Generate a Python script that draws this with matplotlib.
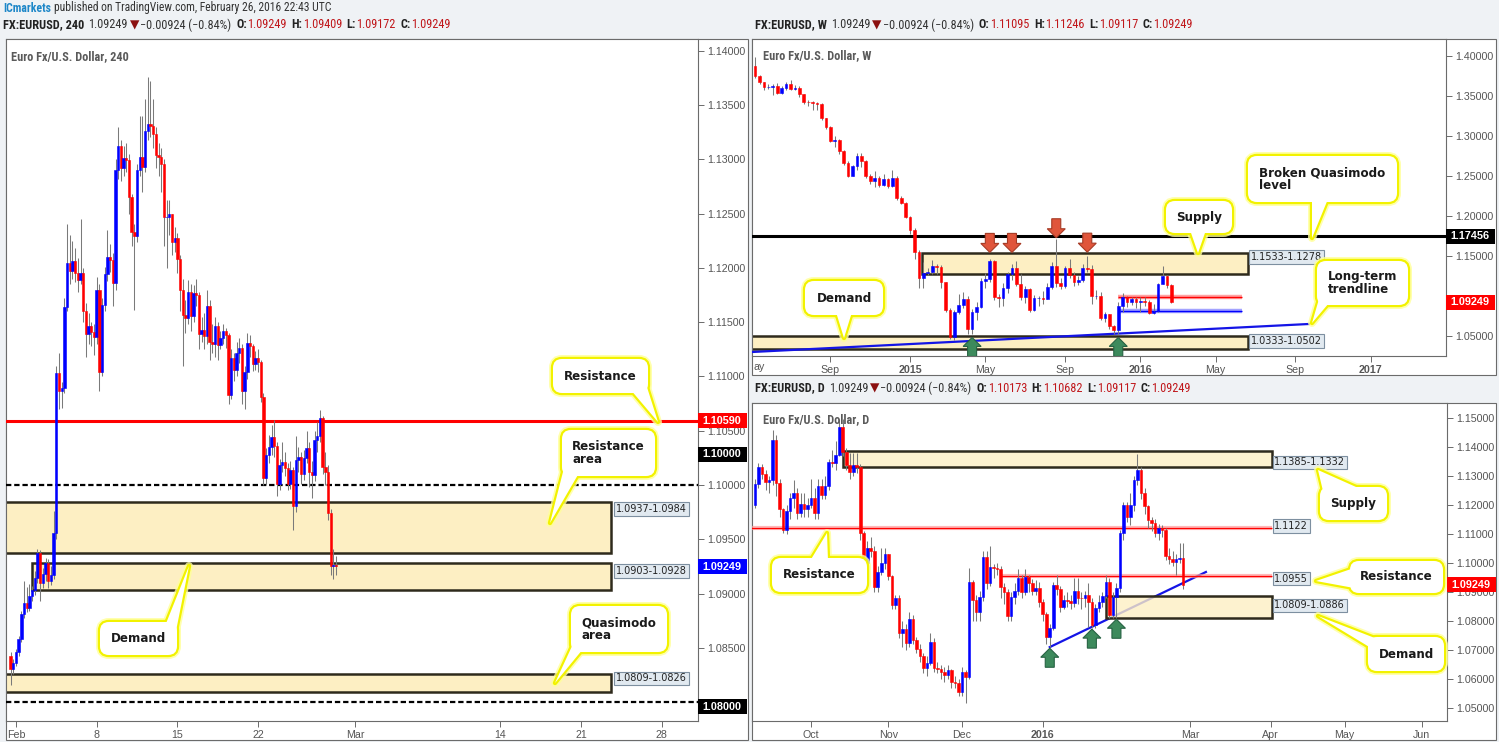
import numpy as np
import pandas as pd
import matplotlib
matplotlib.use("Agg")
import matplotlib.pyplot as plt
import matplotlib.patches as mpatches
import matplotlib.transforms as mtransforms
from matplotlib import font_manager
from matplotlib.colors import to_rgba

W, H = 1499, 742
ID = mtransforms.IdentityTransform()


def first_font(names):
    have = {f.name for f in font_manager.fontManager.ttflist}
    for n in names:
        if n in have:
            return n
    return None


NARROW = first_font(["Liberation Sans Narrow", "Roboto Condensed", "Open Sans Condensed",
                     "Noto Sans Condensed", "Arial Narrow"])
# without a narrow face, shrink the regular one so the header keeps its width
HEAD_SIZE = 8.4 if NARROW else 6.8
NARROW = NARROW or first_font(["Liberation Sans"]) or "DejaVu Sans"
SANS = first_font(["Liberation Sans"]) or "DejaVu Sans"
plt.rcParams["font.family"] = [SANS, "DejaVu Sans"]

BG, FRAME, TXT = "#eff2f5", "#6b6b6b", "#555555"
BLUE, RED, WICK = "#0000ff", "#ff0000", "#7a7a7a"
ZONE_FC, ZONE_EC = "#fdefc3", "#2e2a1c"
VAL_RED = "#c0171b"

# ---------------- 4h candles (EURUSD 240) ----------------
H4_FIRST_OPEN = 1.0843
H4_CLOSE = [1.0831, 1.0836, 1.0846, 1.0858, 1.0881, 1.0891, 1.0887, 1.0898, 1.0903, 1.0914,
            1.0937, 1.0910, 1.0918, 1.0928, 1.0912, 1.0917, 1.0956, 1.1103, 1.1087, 1.1089,
            1.1164, 1.1204, 1.1197, 1.1206, 1.1195, 1.1189, 1.1195, 1.1160, 1.1139, 1.1146,
            1.1141, 1.1136, 1.1180, 1.1104, 1.1166, 1.1194, 1.1210, 1.1207, 1.1186, 1.1290,
            1.1312, 1.1292, 1.1301, 1.1299, 1.1265, 1.1233, 1.1229, 1.1290, 1.1302, 1.1293,
            1.1326, 1.1332, 1.1331, 1.1323, 1.1304, 1.1302, 1.1296, 1.1247, 1.1247, 1.1250,
            1.1224, 1.1227, 1.1208, 1.1180, 1.1157, 1.1154, 1.1178, 1.1156, 1.1177, 1.1175,
            1.1139, 1.1143, 1.1137, 1.1165, 1.1132, 1.1130, 1.1146, 1.1129, 1.1135, 1.1142,
            1.1138, 1.1083, 1.1117, 1.1106, 1.1122, 1.1126, 1.1087, 1.1104, 1.1131, 1.1128,
            1.1111, 1.1117, 1.1113, 1.1081, 1.1006, 1.1028, 1.1035, 1.1044, 1.1036, 1.1001,
            1.1018, 1.1021, 1.1016, 1.1001, 1.1014, 1.0981, 1.1023, 1.1026, 1.1010, 1.1025,
            1.1034, 1.1012, 1.1009, 1.1041, 1.1045, 1.1062, 1.1017, 1.1012, 1.0974, 1.0925,
            1.0926, 1.0925]
H4_HIGH = [1.0846, 1.0840, 1.0849, 1.0861, 1.0884, 1.0912, 1.0906, 1.0909, 1.0907, 1.0921,
           1.0941, 1.0940, 1.0924, 1.0933, 1.0932, 1.0925, 1.0976, 1.1110, 1.1122, 1.1095,
           1.1172, 1.1240, 1.1230, 1.1225, 1.1218, 1.1209, 1.1245, 1.1200, 1.1168, 1.1158,
           1.1150, 1.1148, 1.1192, 1.1185, 1.1172, 1.1201, 1.1235, 1.1222, 1.1214, 1.1300,
           1.1330, 1.1318, 1.1312, 1.1315, 1.1305, 1.1268, 1.1240, 1.1296, 1.1340, 1.1340,
           1.1355, 1.1376, 1.1372, 1.1355, 1.1330, 1.1315, 1.1310, 1.1300, 1.1262, 1.1262,
           1.1250, 1.1238, 1.1232, 1.1212, 1.1190, 1.1170, 1.1189, 1.1185, 1.1184, 1.1190,
           1.1178, 1.1155, 1.1158, 1.1180, 1.1170, 1.1148, 1.1155, 1.1150, 1.1142, 1.1148,
           1.1145, 1.1140, 1.1125, 1.1122, 1.1132, 1.1135, 1.1130, 1.1110, 1.1140, 1.1138,
           1.1130, 1.1123, 1.1125, 1.1115, 1.1085, 1.1034, 1.1046, 1.1055, 1.1060, 1.1040,
           1.1024, 1.1040, 1.1030, 1.1020, 1.1022, 1.1017, 1.1045, 1.1035, 1.1030, 1.1032,
           1.1050, 1.1040, 1.1022, 1.1050, 1.1058, 1.1069, 1.1064, 1.1030, 1.1018, 1.0978,
           1.0941, 1.0935]
H4_LOW = [1.0816, 1.0826, 1.0833, 1.0843, 1.0855, 1.0878, 1.0883, 1.0884, 1.0893, 1.0899,
          1.0910, 1.0893, 1.0905, 1.0912, 1.0905, 1.0908, 1.0913, 1.0950, 1.1070, 1.1071,
          1.1085, 1.1160, 1.1185, 1.1190, 1.1187, 1.1178, 1.1185, 1.1150, 1.1118, 1.1130,
          1.1128, 1.1120, 1.1130, 1.1087, 1.1100, 1.1160, 1.1188, 1.1196, 1.1165, 1.1180,
          1.1282, 1.1280, 1.1285, 1.1288, 1.1250, 1.1220, 1.1161, 1.1224, 1.1285, 1.1270,
          1.1288, 1.1318, 1.1320, 1.1310, 1.1292, 1.1285, 1.1270, 1.1220, 1.1200, 1.1230,
          1.1212, 1.1215, 1.1195, 1.1160, 1.1110, 1.1140, 1.1148, 1.1142, 1.1150, 1.1165,
          1.1125, 1.1132, 1.1125, 1.1130, 1.1115, 1.1122, 1.1118, 1.1115, 1.1125, 1.1130,
          1.1126, 1.1075, 1.1079, 1.1096, 1.1100, 1.1112, 1.1075, 1.1070, 1.1098, 1.1118,
          1.1105, 1.1106, 1.1104, 1.1076, 1.1000, 1.1000, 1.1020, 1.1028, 1.1026, 1.0990,
          1.0995, 1.1012, 1.1008, 1.0995, 1.0996, 1.0959, 1.0975, 1.1012, 1.1001, 1.1005,
          1.1020, 1.0998, 1.0988, 1.1004, 1.1030, 1.1040, 1.1010, 1.1000, 1.0968, 1.0917,
          1.0913, 1.0917]
H4_TICK_DATES = ["2016-02-01", "2016-02-08", "2016-02-15", "2016-02-22",
                 "2016-03-01", "2016-03-14", "2016-03-21", "2016-03-28"]
H4_TICK_LABELS = ["Feb", "8", "15", "22", "Mar", "14", "21", "28"]

# ---------------- weekly candles ----------------
W_FIRST_OPEN = 1.3875
W_CLOSE = [1.3750, 1.3675, 1.3610, 1.3615, 1.3625, 1.3537, 1.3600, 1.3650, 1.3590, 1.3605,
           1.3525, 1.3425, 1.3420, 1.3410, 1.3400, 1.3225, 1.3110, 1.2940, 1.2950, 1.2810,
           1.2660, 1.2500, 1.2625, 1.2750, 1.2687, 1.2500, 1.2437, 1.2475, 1.2387, 1.2460,
           1.2380, 1.2475, 1.2225, 1.2162, 1.1990, 1.1825, 1.1550, 1.1225, 1.1287, 1.1300,
           1.1375, 1.1362, 1.1175, 1.0825, 1.0490, 1.0800, 1.0887, 1.0962, 1.0587, 1.0800,
           1.0862, 1.1187, 1.1212, 1.1437, 1.0987, 1.0975, 1.1100, 1.1275, 1.1350, 1.1150,
           1.0987, 1.1087, 1.0825, 1.0975, 1.0975, 1.0962, 1.1112, 1.1375, 1.1162, 1.1125,
           1.1350, 1.1262, 1.1175, 1.1200, 1.1355, 1.1337, 1.1000, 1.1005, 1.0725, 1.0770,
           1.0625, 1.0575, 1.0875, 1.0987, 1.0925, 1.0962, 1.0925, 1.0940, 1.0930, 1.0787,
           1.0810, 1.1150, 1.1250, 1.1137, 1.0925]
W_HIGH = [1.3993, 1.3760, 1.3680, 1.3650, 1.3650, 1.3660, 1.3620, 1.3680, 1.3700, 1.3640,
          1.3620, 1.3530, 1.3445, 1.3440, 1.3430, 1.3410, 1.3220, 1.3120, 1.3000, 1.2960,
          1.2830, 1.2690, 1.2640, 1.2790, 1.2790, 1.2700, 1.2520, 1.2560, 1.2500, 1.2520,
          1.2480, 1.2570, 1.2500, 1.2250, 1.2170, 1.2000, 1.1850, 1.1580, 1.1420, 1.1350,
          1.1450, 1.1400, 1.1390, 1.1180, 1.0850, 1.0820, 1.1030, 1.1050, 1.1000, 1.0840,
          1.0920, 1.1230, 1.1290, 1.1465, 1.1450, 1.1030, 1.1160, 1.1300, 1.1400, 1.1440,
          1.1280, 1.1130, 1.1100, 1.1010, 1.1000, 1.1060, 1.1160, 1.1420, 1.1715, 1.1230,
          1.1370, 1.1460, 1.1300, 1.1250, 1.1400, 1.1495, 1.1390, 1.1080, 1.1050, 1.0800,
          1.0780, 1.0640, 1.0920, 1.1040, 1.1000, 1.0990, 1.0990, 1.0990, 1.0990, 1.0950,
          1.0900, 1.1160, 1.1375, 1.1260, 1.1145]
W_LOW = [1.3730, 1.3650, 1.3580, 1.3590, 1.3510, 1.3520, 1.3520, 1.3580, 1.3570, 1.3570,
         1.3490, 1.3400, 1.3370, 1.3330, 1.3330, 1.3200, 1.3090, 1.2920, 1.2860, 1.2780,
         1.2640, 1.2490, 1.2500, 1.2570, 1.2610, 1.2480, 1.2400, 1.2360, 1.2360, 1.2380,
         1.2350, 1.2360, 1.2200, 1.2150, 1.1970, 1.1780, 1.1460, 1.1100, 1.1100, 1.1260,
         1.1270, 1.1280, 1.1100, 1.0800, 1.0460, 1.0450, 1.0780, 1.0850, 1.0520, 1.0520,
         1.0700, 1.0850, 1.1100, 1.1170, 1.0950, 1.0860, 1.0880, 1.1040, 1.1200, 1.1120,
         1.0950, 1.0910, 1.0800, 1.0810, 1.0880, 1.0900, 1.0960, 1.1090, 1.1110, 1.1090,
         1.1100, 1.1230, 1.1120, 1.1140, 1.1180, 1.1300, 1.0900, 1.0960, 1.0700, 1.0670,
         1.0590, 1.0520, 1.0524, 1.0800, 1.0860, 1.0890, 1.0850, 1.0800, 1.0880, 1.0770,
         1.0770, 1.0800, 1.1150, 1.1100, 1.0912]
W_LAST_WEEK = "2016-02-22"

# ---------------- daily candles ----------------
D_FIRST_OPEN = 1.1200
D_CLOSE = [1.1272, 1.1330, 1.1307, 1.1280, 1.1286, 1.1424, 1.1275, 1.1185, 1.1114, 1.1179,
           1.1223, 1.1240, 1.1174, 1.1203, 1.1185, 1.1200, 1.1223, 1.1174, 1.1266, 1.1234,
           1.1266, 1.1349, 1.1345, 1.1372, 1.1468, 1.1384, 1.1338, 1.1315, 1.1338, 1.1330,
           1.1102, 1.0999, 1.1051, 1.1043, 1.0916, 1.0970, 1.1001, 1.1031, 1.0955, 1.0855,
           1.0878, 1.0757, 1.0771, 1.0723, 1.0806, 1.0734, 1.0705, 1.0679, 1.0637, 1.0656,
           1.0729, 1.0637, 1.0634, 1.0625, 1.0614, 1.0630, 1.0590, 1.0585, 1.0556, 1.0625,
           1.0608, 1.0936, 1.0872, 1.0832, 1.0884, 1.1022, 1.0932, 1.0985, 1.0982, 1.0980,
           1.0918, 1.0901, 1.0817, 1.0882, 1.0905, 1.0948, 1.0900, 1.0953, 1.0930, 1.0905,
           1.0913, 1.0867, 1.0824, 1.0744, 1.0775, 1.0924, 1.0909, 1.0849, 1.0872, 1.0870,
           1.0863, 1.0905, 1.0880, 1.0878, 1.0890, 1.0867, 1.0786, 1.0844, 1.0867, 1.0886,
           1.0936, 1.0821, 1.0884, 1.0913, 1.1102, 1.1200, 1.1160, 1.1200, 1.1286, 1.1320,
           1.1240, 1.1195, 1.1148, 1.1137, 1.1102, 1.1120, 1.1115, 1.1024, 1.1013, 1.1005,
           1.1013, 1.1017, 1.0925]
D_HIGH = [1.1290, 1.1345, 1.1340, 1.1320, 1.1300, 1.1460, 1.1440, 1.1290, 1.1190, 1.1200,
          1.1240, 1.1285, 1.1260, 1.1240, 1.1240, 1.1225, 1.1290, 1.1260, 1.1290, 1.1290,
          1.1300, 1.1360, 1.1390, 1.1420, 1.1495, 1.1495, 1.1395, 1.1380, 1.1380, 1.1380,
          1.1340, 1.1110, 1.1075, 1.1090, 1.1060, 1.0990, 1.1050, 1.1050, 1.1030, 1.0960,
          1.0890, 1.0890, 1.0800, 1.0790, 1.0830, 1.0820, 1.0745, 1.0720, 1.0690, 1.0680,
          1.0760, 1.0740, 1.0660, 1.0650, 1.0640, 1.0650, 1.0635, 1.0610, 1.0600, 1.0640,
          1.0630, 1.0982, 1.0940, 1.0890, 1.0905, 1.1040, 1.1042, 1.1060, 1.0998, 1.1000,
          1.0990, 1.0930, 1.0910, 1.0900, 1.0930, 1.0980, 1.0960, 1.0980, 1.0960, 1.0945,
          1.0940, 1.0935, 1.0875, 1.0830, 1.0790, 1.0935, 1.0960, 1.0920, 1.0890, 1.0900,
          1.0890, 1.0950, 1.0950, 1.0900, 1.0905, 1.0930, 1.0880, 1.0860, 1.0890, 1.0900,
          1.0960, 1.0950, 1.0900, 1.0930, 1.1115, 1.1210, 1.1210, 1.1240, 1.1300, 1.1376,
          1.1330, 1.1260, 1.1200, 1.1160, 1.1150, 1.1135, 1.1130, 1.1120, 1.1050, 1.1040,
          1.1030, 1.1068, 1.1068]
D_LOW = [1.1190, 1.1260, 1.1290, 1.1250, 1.1240, 1.1270, 1.1230, 1.1160, 1.1102, 1.1100,
         1.1150, 1.1190, 1.1150, 1.1160, 1.1160, 1.1160, 1.1190, 1.1150, 1.1150, 1.1220,
         1.1220, 1.1250, 1.1330, 1.1320, 1.1370, 1.1370, 1.1320, 1.1290, 1.1300, 1.1310,
         1.1080, 1.0990, 1.0980, 1.1020, 1.0900, 1.0900, 1.0960, 1.0980, 1.0940, 1.0840,
         1.0840, 1.0740, 1.0710, 1.0700, 1.0710, 1.0720, 1.0690, 1.0660, 1.0620, 1.0610,
         1.0650, 1.0625, 1.0620, 1.0600, 1.0590, 1.0600, 1.0570, 1.0570, 1.0540, 1.0540,
         1.0516, 1.0600, 1.0800, 1.0800, 1.0800, 1.0870, 1.0910, 1.0920, 1.0950, 1.0960,
         1.0880, 1.0860, 1.0800, 1.0800, 1.0860, 1.0890, 1.0880, 1.0890, 1.0900, 1.0890,
         1.0890, 1.0850, 1.0800, 1.0720, 1.0710, 1.0770, 1.0890, 1.0830, 1.0840, 1.0850,
         1.0840, 1.0850, 1.0860, 1.0840, 1.0850, 1.0780, 1.0776, 1.0776, 1.0830, 1.0850,
         1.0880, 1.0810, 1.0812, 1.0810, 1.0900, 1.1080, 1.1140, 1.1130, 1.1180, 1.1270,
         1.1220, 1.1170, 1.1120, 1.1110, 1.1090, 1.1080, 1.1090, 1.1010, 1.0995, 1.0990,
         1.0960, 1.1000, 1.0912]
D_LAST_DAY = "2016-02-26"

LAST = 1.09249


# ---------------- helpers ----------------
def opens(first, close):
    c = np.asarray(close, float)
    return np.concatenate([[first], c[:-1]]), c


def draw_candles(ax, x, o, hi, lo, c, width):
    col = np.where(c >= o, BLUE, RED)
    ax.vlines(x, lo, hi, color=WICK, lw=0.75, zorder=4)
    ax.bar(x, c - o, bottom=o, width=width, color=col, edgecolor=col, linewidth=0.4, zorder=5)


def add_axes_px(x0, y0, x1, y1):
    return fig.add_axes([x0 / W, (H - y1) / H, (x1 - x0) / W, (y1 - y0) / H])


def frame(x0, y0, x1, y1):
    fig.add_artist(mpatches.Rectangle((x0, H - y1), x1 - x0, y1 - y0, transform=ID,
                                      fc="white", ec=FRAME, lw=0.8, zorder=-1))


def style_axes(ax, xlim, ylim, yticks, hidden=()):
    ax.set_xlim(*xlim)
    ax.set_ylim(*ylim)
    ax.set_facecolor("white")
    for s in ax.spines.values():
        s.set_color(FRAME)
        s.set_linewidth(0.8)
    ax.yaxis.tick_right()
    ax.set_yticks(yticks)
    # labels that sit under a price tag are hidden, as on the chart
    ax.set_yticklabels(["" if any(abs(v - h) < 1e-9 for h in hidden) else f"{v:.5f}"
                        for v in yticks])
    ax.tick_params(axis="both", direction="out", length=4, width=0.7, color=FRAME,
                   labelcolor=TXT, labelsize=7.7, pad=2.5)


def zone(ax, x0, x1, lo, hi, z=2, face_alpha=1.0):
    ax.add_patch(mpatches.Rectangle((x0, lo), x1 - x0, hi - lo, fc=to_rgba(ZONE_FC, face_alpha),
                                    ec=ZONE_EC, lw=1.8, zorder=z))


def zone_label(ax, x, y, text):
    ax.text(x, y, text, fontsize=7, family="DejaVu Sans", color="#222222", va="center",
            ha="left", zorder=8, clip_on=False,
            bbox=dict(boxstyle="square,pad=0.18", fc="#e1e9f0", ec="#7d8fa0", lw=0.8))


def tag(ax, y, text, color):
    _, yd = ax.transData.transform((0, y))
    x0 = ax.get_window_extent().x1
    fig.add_artist(mpatches.Rectangle((x0, yd - 7.5), 49, 15, transform=ID, fc=color,
                                      ec="none", zorder=30))
    fig.text(x0 + 4, yd, text, transform=ID, color="white", fontsize=7.8, fontweight="bold",
             va="center", ha="left", zorder=31)


def block_arrow(ax, x, y, up, fc, ec):
    xd, yd = ax.transData.transform((x, y))
    s = -1 if up else 1
    pts = [(0, 0), (-9, 9), (-4.5, 9), (-4.5, 19), (4.5, 19), (4.5, 9), (9, 9)]
    verts = [(xd + px, yd + s * py) for px, py in pts]
    ax.add_patch(mpatches.Polygon(verts, closed=True, transform=ID, fc=fc, ec=ec, lw=0.8,
                                  zorder=9))


def callout(box, tail, text):
    x0, y0, x1, y1 = box
    tri = [(tail[0][0], H - tail[0][1]), (tail[2][0], H - tail[2][1]),
           (tail[1][0], H - tail[1][1])]

    def shapes(**kw):
        b = mpatches.FancyBboxPatch((x0, H - y1), x1 - x0, y1 - y0, transform=ID,
                                    boxstyle="round,pad=0,rounding_size=9", **kw)
        t = mpatches.Polygon(tri, closed=True, transform=ID, joinstyle="round", **kw)
        return b, t

    for col, lw, a, z in [("#ffff99", 8.0, 0.8, 20), ("#f2f200", 4.4, 1.0, 21)]:
        for p in shapes(fc="none", ec=col, lw=lw * 0.72, alpha=a, zorder=z):
            fig.add_artist(p)
    b, t = shapes(fc="white", ec="none", zorder=22)
    fig.add_artist(b)
    fig.add_artist(t)
    fig.text((x0 + x1) / 2, H - (y0 + y1) / 2, text, transform=ID, ha="center", va="center",
             multialignment="left", fontsize=8.6, fontweight="bold", family="DejaVu Sans",
             color="#1a1a1a", linespacing=1.0, zorder=23)


def segments(x, y, parts, size=HEAD_SIZE):
    r = fig.canvas.get_renderer()
    for text, color, weight, gap in parts:
        t = fig.text(x, H - y, text, transform=ID, color=color, fontsize=size,
                     fontweight=weight, family=[NARROW, "DejaVu Sans"], va="center", ha="left")
        x += t.get_window_extent(renderer=r).width + gap


def ohlc_header(x, y, tf, o, h, l, c):
    parts = [(f"FX:EURUSD, {tf}", "#222222", "bold", 4), (f"{LAST:.5f}", "#333333", "normal", 2),
             ("\u25bc", "#8b1010", "normal", 1), ("\u22120.00924 (\u22120.84%)", "#333333", "normal", 5)]
    for k, v in zip("OHLC", (o, h, l, c)):
        parts += [(f"{k}:", "#222222", "bold", 0.5), (f"{v:.5f}", VAL_RED, "normal", 4.5)]
    segments(x, y, parts, size=HEAD_SIZE + 0.4)


def title(x, y, text):
    fig.text(x, H - y, text, transform=ID, color="#5a5a5a", fontsize=HEAD_SIZE + 0.4,
             fontweight="bold", family=[NARROW, "DejaVu Sans"], va="center", ha="left", zorder=30)


# ---------------- figure ----------------
fig = plt.figure(figsize=(W / 100, H / 100), dpi=100)
fig.patch.set_facecolor(BG)

segments(3, 8, [("ICmarkets", "#1e87c8", "bold", 3),
                ("published on TradingView.com, February 26, 2016 22:43 UTC", "#333333", "normal", 0)])
ohlc_header(3, 25, "240", 1.09249, 1.09409, 1.09172, 1.09249)
ohlc_header(755, 25, "W", 1.11095, 1.11246, 1.09117, 1.09249)
ohlc_header(755, 388, "D", 1.10173, 1.10682, 1.09117, 1.09249)

# ===== left: 4h =====
frame(6, 39, 748, 740)
ax = add_axes_px(6, 39, 698, 721)
style_axes(ax, (-3.7, 253.5), (1.07827, 1.14107), np.round(np.arange(1.080, 1.1401, 0.005), 3),
           hidden=(1.080,))
x4 = np.arange(120 - len(H4_CLOSE), 120)
o4, c4 = opens(H4_FIRST_OPEN, H4_CLOSE)
draw_candles(ax, x4, o4, H4_HIGH, H4_LOW, c4, 0.88)
tick4 = [np.busday_count("2016-02-01", d) * 6 for d in H4_TICK_DATES]
ax.set_xticks(tick4)
ax.set_xticklabels(H4_TICK_LABELS)

zone(ax, -8, 221, 1.0937, 1.0984)
zone(ax, 6, 221, 1.0903, 1.0928)
zone(ax, -8, 221, 1.0809, 1.0826)
ax.axhline(1.1059, color=RED, lw=2.2, zorder=3)
for lvl in (1.1000, 1.0800):
    ax.axhline(lvl, color="black", lw=1.6, ls=(0, (2.4, 1.3)), zorder=3)
zone_label(ax, 223, 1.0978, "1.0937-1.0984")
zone_label(ax, 223, 1.0921, "1.0903-1.0928")
zone_label(ax, 223, 1.0822, "1.0809-1.0826")
title(11, 57, "Euro Fx/U.S. Dollar, 240")

tag(ax, 1.1059, "1.10590", RED)
tag(ax, 1.10285, "1.10000", "black")
tag(ax, LAST, "1.09249", BLUE)
tag(ax, 1.07956, "1.08000", "black")

callout((553, 359, 648, 393), ((630, 389), (646, 384), (658, 422)), "Resistance")
callout((562, 430, 655, 476), ((564, 468), (579, 473), (550, 523)), "Resistance\narea")
callout((571, 606, 667, 652), ((573, 644), (583, 649), (555, 683)), "Quasimodo\narea")
callout((100, 622, 177, 655), ((165, 626), (176, 631), (189, 566)), "Demand")

# ===== right top: weekly =====
frame(752, 39, 1496, 375)
axw = add_axes_px(752, 39, 1446, 356)
style_axes(axw, (-0.7, 156), (1.025, 1.42125), np.round(np.arange(1.05, 1.401, 0.05), 2),
           hidden=(1.10,))
w_dates = pd.date_range(end=W_LAST_WEEK, periods=len(W_CLOSE), freq="W-MON")
xw = np.arange(len(W_CLOSE))
ow, cw = opens(W_FIRST_OPEN, W_CLOSE)
wext = pd.date_range(start=w_dates[0], periods=150, freq="W-MON")
wt, wl = [], []
for i in range(1, len(wext)):
    d = wext[i]
    if d.month != wext[i - 1].month and d.month in (1, 5, 9):
        wt.append(i)
        wl.append(str(d.year) if d.month == 1 else d.strftime("%b"))
axw.set_xticks(wt)
axw.set_xticklabels(wl)
for lbl in axw.get_xticklabels():
    if lbl.get_text().isdigit():
        lbl.set_fontweight("bold")
fig.text(754, H - 367, "ay", transform=ID, color=TXT, fontsize=7.7, va="center", ha="left")

zone(axw, 37.7, 111.3, 1.1278, 1.1533)
zone(axw, -3, 111.3, 1.0333, 1.0502)
axw.axhline(1.17456, color="black", lw=2.2, zorder=3)
axw.plot([-0.7, 125], [1.030, 1.065], color="#1414e6", lw=1.6, zorder=3)
axw.hlines(1.0984, 82, 110, color="#ff8c8c", lw=3.2, alpha=0.8, zorder=3)
axw.hlines(1.0984, 82, 110, color=RED, lw=1.0, zorder=3)
axw.hlines(1.0809, 82.5, 110, color="#8c8cff", lw=3.2, alpha=0.8, zorder=3)
axw.hlines(1.0809, 82.5, 110, color=BLUE, lw=1.0, zorder=3)
draw_candles(axw, xw, ow, W_HIGH, W_LOW, cw, 0.62)
zone_label(axw, 112, 1.1490, "1.1533-1.1278")
zone_label(axw, 112, 1.0440, "1.0333-1.0502")
for k, yv in zip([53, 58, 68, 75], [1.1545, 1.1545, 1.1728, 1.1548]):
    block_arrow(axw, k, yv, False, "#e0553b", "#a63a24")
for k, yv in zip([49, 82], [1.0482, 1.0482]):
    block_arrow(axw, k, yv, True, "#3d8a5c", "#276243")
title(763, 56, "Euro Fx/U.S. Dollar, W")
tag(axw, 1.17456, "1.17456", "black")
tag(axw, LAST, "1.09249", RED)

callout((805, 281, 883, 315), ((836, 312), (852, 312), (844, 338)), "Demand")
callout((1166, 201, 1232, 233), ((1190, 230), (1206, 230), (1198, 253)), "Supply")
callout((1248, 156, 1397, 202), ((1312, 199), (1328, 199), (1312, 238)), "Broken Quasimodo\nlevel")
callout((1317, 261, 1408, 305), ((1319, 299), (1329, 303), (1312, 323)), "Long-term\ntrendline")

# ===== right bottom: daily =====
frame(752, 403, 1496, 740)
axd = add_axes_px(752, 403, 1447, 721)
style_axes(axd, (-0.85, 197.2), (1.04552, 1.15517), np.round(np.arange(1.05, 1.1501, 0.01), 2))
d_dates = pd.bdate_range(end=D_LAST_DAY, periods=len(D_CLOSE))
xd = np.arange(len(D_CLOSE))
od, cd = opens(D_FIRST_OPEN, D_CLOSE)
dext = pd.bdate_range(start=d_dates[0], periods=200)
dt, dl = [], []
for i in range(1, len(dext)):
    d = dext[i]
    if d.month != dext[i - 1].month and d.month != 2:
        dt.append(i)
        dl.append(str(d.year) if d.month == 1 else d.strftime("%b"))
axd.set_xticks(dt)
axd.set_xticklabels(dl)
for lbl in axd.get_xticklabels():
    if lbl.get_text().isdigit():
        lbl.set_fontweight("bold")

axd.plot([84, 128.5], [1.0710, 1.0969], color="#1414e6", lw=1.6, zorder=2)
zone(axd, 25, 147.3, 1.1332, 1.1385, z=3, face_alpha=0.8)
zone(axd, 100, 147.3, 1.0809, 1.0886, z=3, face_alpha=0.8)
for y0, x0 in ((1.1122, -2), (1.0955, 70)):
    axd.hlines(y0, x0, 147.3, color="#ff9a9a", lw=3.0, alpha=0.7, zorder=3)
    axd.hlines(y0, x0, 147.3, color=RED, lw=0.9, zorder=3)
draw_candles(axd, xd, od, D_HIGH, D_LOW, cd, 0.75)
zone_label(axd, 148, 1.1347, "1.1385-1.1332")
zone_label(axd, 148, 1.1127, "1.1122")
zone_label(axd, 148, 1.0946, "1.0955")
zone_label(axd, 148, 1.0854, "1.0809-1.0886")
for k, yv in zip([84, 96, 103], [1.0706, 1.0772, 1.0806]):
    block_arrow(axd, k, yv, True, "#3d8a5c", "#276243")
title(763, 420, "Euro Fx/U.S. Dollar, D")
tag(axd, LAST, "1.09249", RED)

callout((772, 558, 867, 592), ((810, 561), (828, 561), (827, 533)), "Resistance")
callout((1320, 487, 1387, 520), ((1323, 491), (1365, 491), (1318, 470)), "Supply")
callout((1350, 561, 1443, 593), ((1354, 568), (1354, 588), (1316, 581)), "Resistance")
callout((1368, 637, 1444, 671), ((1380, 640), (1371, 648), (1318, 616)), "Demand")

fig.savefig("out.png", dpi=100, facecolor=fig.get_facecolor())
